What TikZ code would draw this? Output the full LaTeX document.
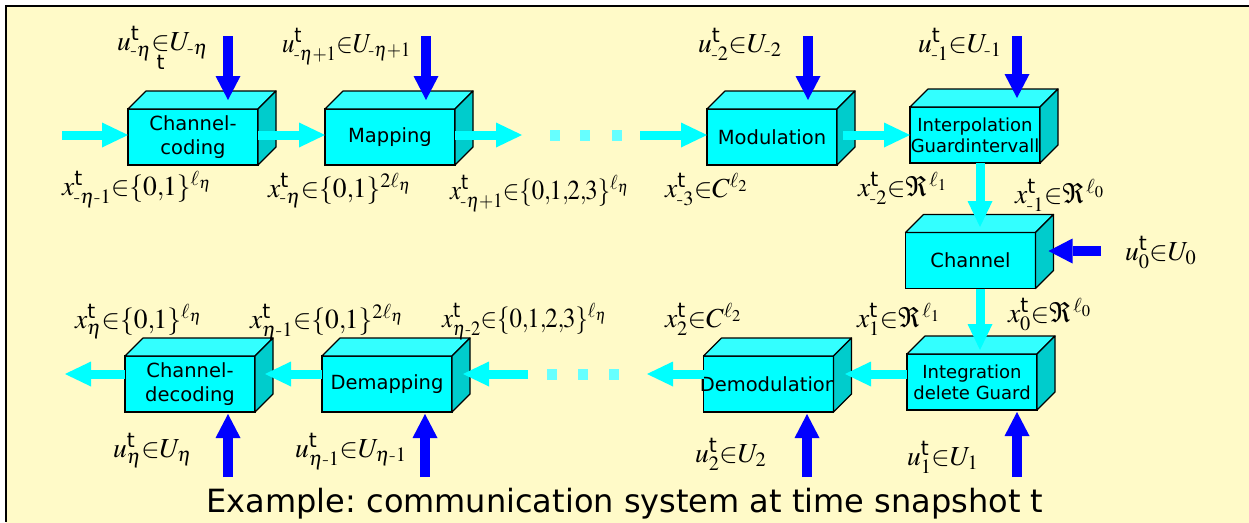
\documentclass[tikz,border=0pt]{standalone}
\usepackage{amsmath}
\usepackage{mathptmx}
\usepackage{graphicx}
\usepackage[no-math]{fontspec}
\setsansfont{DejaVu Sans}
\newfontfamily\dv{DejaVu Sans}
\frenchspacing
\usetikzlibrary{arrows.meta,calc}
\definecolor{boxfront}{RGB}{0,255,255}
\definecolor{boxtop}{RGB}{51,255,255}
\definecolor{boxside}{RGB}{0,204,204}
\definecolor{flow}{RGB}{0,255,255}
\definecolor{dotc}{RGB}{102,255,255}
\definecolor{ctrl}{RGB}{0,0,255}
\definecolor{bgy}{RGB}{255,250,200}
\definecolor{bgw}{RGB}{255,255,248}
\newcommand\tsup{\text{\sffamily t}}
\newcommand\hy{\text{-}}
\newcommand\pl{{+}}
\newcommand\cm{{,}\mkern-1mu}
\newcommand\bl[1]{\makebox[120pt]{#1}}
\newcommand\cubefaces[1]{%
  \filldraw[topf] (#1.north west) -- ++(18,-18) -- ([shift={(18,-18)}]#1.north east) -- (#1.north east) -- cycle;
  \filldraw[sidef] (#1.north east) -- ++(18,-18) -- ([shift={(18,-18)}]#1.south east) -- (#1.south east) -- cycle;}
\tikzset{
  blk/.style={draw=black, line width=1.2pt, fill=boxfront, minimum width=130pt, minimum height=56pt,
    inner sep=0pt, outer sep=0pt, align=center, font=\dv\fontsize{19.5}{24}\selectfont},
  smallblk/.style={blk, font=\dv\fontsize{18}{21}\selectfont},
  topf/.style={draw=black, line width=1.2pt, fill=boxtop, line join=round},
  sidef/.style={draw=black, line width=1.2pt, fill=boxside, line join=round},
  flowarr/.style={draw=flow, line width=9pt, -{Triangle[length=26pt,width=25pt,line width=0pt]}},
  ctrlarr/.style={draw=ctrl, line width=9.5pt, -{Triangle[length=24pt,width=25pt,line width=0pt]}},
  lab/.style={anchor=base west, inner sep=0pt, outer sep=0pt, font=\fontsize{27.5}{27.5}\selectfont},
  dotsq/.style={fill=dotc},
}
\begin{document}
\begin{tikzpicture}[x=1pt,y=-1pt]
\useasboundingbox (0,0) rectangle (1249,522);
\fill[white] (0,0) rectangle (1249,522);
\shade[top color=bgy, middle color=bgw, bottom color=bgy] (6,6) rectangle (1249,522);
\draw[line width=2pt] (6,522) -- (6,6) -- (1249,6);

% boxes
\node[blk] (cc) at (193,137) {Channel-\\coding};
\node[blk] (map) at (390,137) {Mapping};
\node[blk] (mod) at (772,137) {Modulation};
\node[smallblk] (ip) at (975,135) {\bl{Interpolation}\\\bl{Guardintervall}};
\node[blk] (ch) at (970.5,260.5) {Channel};
\node[smallblk] (ig) at (972,382) {\bl{Integration}\\\bl{delete Guard}};
\node[blk] (dm) at (768.5,384) {\bl{Demodulation}};
\node[blk] (dmp) at (387,384) {Demapping};
\node[blk] (cd) at (190,384) {Channel-\\decoding};
\foreach \n in {cc,map,mod,ip,ch,ig,dm,dmp,cd} {\cubefaces{\n}}

% data flow (top row)
\coordinate (in0) at (62,135);
\coordinate (o1) at (522,135);
\coordinate (i2) at (640,135);
\draw[flowarr] (in0) -- (cc.west |- in0);
\draw[flowarr] (cc.east |- in0) -- (map.west |- in0);
\draw[flowarr] (map.east |- in0) -- (o1);
\fill[dotsq] (550,129.5) rectangle ++(10,11);
\fill[dotsq] (580,129.5) rectangle ++(10,11);
\fill[dotsq] (612,129.5) rectangle ++(10,11);
\draw[flowarr] (i2) -- (mod.west |- i2);
\draw[flowarr] ($(mod.east |- i2)+(6,0)$) -- (ip.west |- i2);
% right column
\coordinate (chin) at (980,227);
\coordinate (igin) at (980,350);
\draw[flowarr] (ip.south -| chin) -- (chin);
\draw[flowarr] (ch.south -| igin) -- (igin);
% bottom row
\coordinate (b0) at (845,374);
\coordinate (b1) at (647,374);
\coordinate (b2) at (528,374);
\coordinate (b3) at (463,374);
\coordinate (b4) at (265,374);
\coordinate (b5) at (65,374);
\draw[flowarr] (ig.west |- b0) -- (b0);
\draw[flowarr] (dm.west |- b1) -- (b1);
\fill[dotsq] (547,368.5) rectangle ++(10,11);
\fill[dotsq] (578,368.5) rectangle ++(10,11);
\fill[dotsq] (609,368.5) rectangle ++(10,11);
\draw[flowarr] (b2) -- (b3);
\draw[flowarr] (dmp.west |- b4) -- (b4);
\draw[flowarr] (cd.west |- b5) -- (b5);

% control inputs
\coordinate (ucc) at (228,36);
\coordinate (umap) at (426,36);
\coordinate (umod) at (808,36);
\coordinate (uip) at (1017,36);
\draw[ctrlarr] (ucc) -- ($(ucc |- cc.north)+(0,-9)$);
\draw[ctrlarr] (umap) -- ($(umap |- map.north)+(0,-9)$);
\draw[ctrlarr] (umod) -- ($(umod |- mod.north)+(0,-9)$);
\draw[ctrlarr] (uip) -- ($(uip |- ip.north)+(0,-9)$);
\coordinate (uch) at (1101,251);
\draw[ctrlarr] (uch) -- ($(ch.east |- uch)+(13,0)$);
\coordinate (ucd) at (228,477);
\coordinate (udmp) at (425,477);
\coordinate (udm) at (807,477);
\coordinate (uig) at (1017,477);
\draw[ctrlarr] (ucd) -- ($(ucd |- cd.south)+(0,2)$);
\draw[ctrlarr] (udmp) -- ($(udmp |- dmp.south)+(0,2)$);
\draw[ctrlarr] (udm) -- ($(udm |- dm.south)+(0,2)$);
\draw[ctrlarr] (uig) -- ($(uig |- ig.south)+(0,2)$);

% labels
\node[lab] (l1) at (117,50) {$u^{\tsup}_{\hy\eta}{\mathop{\in}\limits_{\tsup}}U_{\hy\eta}$};
\node[lab] (l2) at (282,52) {\scalebox{0.9}[1]{$u^{\tsup}_{\hy\eta\pl 1}{\in}U_{\hy\eta\pl 1}$}};
\node[lab] (l3) at (698,52) {$u^{\tsup}_{\hy 2}{\in}U_{\hy 2}$};
\node[lab] (l4) at (918,52) {$u^{\tsup}_{\hy 1}{\in}U_{\hy 1}$};
\node[lab] (l5) at (62,195) {$x^{\tsup}_{\hy\eta\hy 1}{\in}\{0\cm 1\}^{\ell_\eta}$};
\node[lab] (l6) at (268,197) {$x^{\tsup}_{\hy\eta}{\in}\{0\cm 1\}^{2\ell_\eta}$};
\node[lab] (l7) at (450,199) {\scalebox{0.9}[1]{$x^{\tsup}_{\hy\eta\pl 1}{\in}\{0\cm 1\cm 2\cm 3\}^{\ell_\eta}$}};
\node[lab] (l8) at (665,197) {$x^{\tsup}_{\hy 3}{\in}C^{\ell_2}$};
\node[lab] (l9) at (858,196) {$x^{\tsup}_{\hy 2}{\in}\Re^{\,\ell_1}$};
\node[lab] (l10) at (1015,203) {$x^{\tsup}_{\hy 1}{\in}\Re^{\,\ell_0}$};
\node[lab] (l11) at (1125,260) {$u^{\tsup}_0{\in}U_0$};
\node[lab] (l12) at (857,327) {$x^{\tsup}_1{\in}\Re^{\,\ell_1}$};
\node[lab] (l13) at (1008,322) {$x^{\tsup}_0{\in}\Re^{\,\ell_0}$};
\node[lab] (l14) at (75,328) {$x^{\tsup}_\eta{\in}\{0\cm 1\}^{\ell_\eta}$};
\node[lab] (l15) at (250,328) {$x^{\tsup}_{\eta\hy 1}{\in}\{0\cm 1\}^{2\ell_\eta}$};
\node[lab] (l16) at (442,327) {\scalebox{0.9}[1]{$x^{\tsup}_{\eta\hy 2}{\in}\{0\cm 1\cm 2\cm 3\}^{\ell_\eta}$}};
\node[lab] (l17) at (665,327) {$x^{\tsup}_2{\in}C^{\ell_2}$};
\node[lab] (l18) at (113,457) {$u^{\tsup}_\eta{\in}U_\eta$};
\node[lab] (l19) at (295,457) {$u^{\tsup}_{\eta\hy 1}{\in}U_{\eta\hy 1}$};
\node[lab] (l20) at (695,462) {$u^{\tsup}_2{\in}U_2$};
\node[lab] (l21) at (907,465) {$u^{\tsup}_1{\in}U_1$};

\node[anchor=base, inner sep=0pt, font=\dv\fontsize{32}{32}\selectfont] (cap) at (625,512) {Example: communication system at time snapshot t};
\end{tikzpicture}
\end{document}
